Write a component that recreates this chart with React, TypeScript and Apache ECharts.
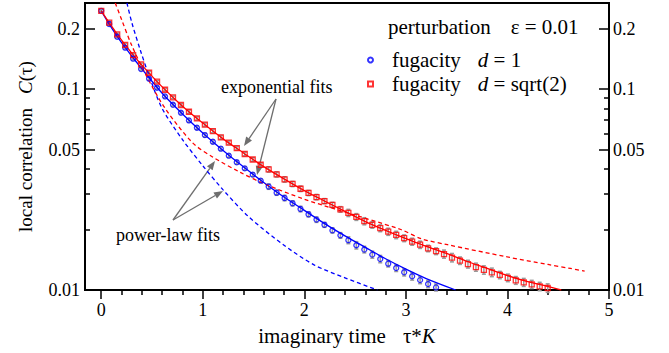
import React, { useEffect, useRef } from 'react';
import * as echarts from 'echarts';

// imaginary time grid (tau*K)
const tau = [0, 0.0785, 0.157, 0.2355, 0.314, 0.3925, 0.471, 0.5495, 0.628, 0.7065, 0.785, 0.8635, 0.942, 1.0205, 1.099, 1.1775, 1.256, 1.3345, 1.413, 1.4915, 1.57, 1.6485, 1.727, 1.8055, 1.884, 1.9625, 2.041, 2.1195, 2.198, 2.2765, 2.355, 2.4335, 2.512, 2.5905, 2.669, 2.7475, 2.826, 2.9045, 2.983, 3.0615, 3.14, 3.2185, 3.297, 3.3755, 3.454, 3.5325, 3.611, 3.6895, 3.768, 3.8465, 3.925, 4.0035, 4.082, 4.1605, 4.239, 4.3175, 4.396];

// fugacity d = 1 (blue circles)
const blueC = [0.245, 0.2106, 0.182, 0.1606, 0.1416, 0.1257, 0.1126, 0.1015, 0.0919, 0.0835, 0.0762, 0.0698, 0.0642, 0.059, 0.0547, 0.0505, 0.0466, 0.0432, 0.0403, 0.0375, 0.035, 0.0327, 0.0305, 0.0287, 0.027, 0.0253, 0.0238, 0.0224, 0.0211, 0.0198, 0.0187, 0.0177, 0.0167, 0.0159, 0.015, 0.01426, 0.01352, 0.01286, 0.01225, 0.0117, 0.0112, 0.0107, 0.0103];
const blueErr = [0.0037, 0.0032, 0.0027, 0.0024, 0.0021, 0.0019, 0.0017, 0.0015, 0.0014, 0.0013, 0.0011, 0.0014, 0.0013, 0.0012, 0.0011, 0.001, 0.0009, 0.0009, 0.0008, 0.0008, 0.0007, 0.001, 0.0009, 0.0009, 0.0008, 0.0008, 0.0007, 0.0007, 0.0006, 0.0006, 0.0006, 0.0007, 0.0007, 0.0006, 0.0006, 0.0006, 0.0005, 0.0005, 0.0005, 0.0005, 0.00045, 0.00043, 0.00041];

// fugacity d = sqrt(2) (red squares)
const redC = [0.245, 0.214, 0.187, 0.166, 0.1476, 0.1327, 0.1205, 0.1088, 0.0992, 0.0909, 0.0833, 0.0771, 0.0714, 0.0665, 0.0618, 0.0575, 0.0541, 0.0508, 0.0475, 0.0446, 0.042, 0.0398, 0.0376, 0.0355, 0.0337, 0.0319, 0.0304, 0.029, 0.0277, 0.0265, 0.0252, 0.0242, 0.0231, 0.022, 0.0211, 0.0203, 0.0195, 0.0188, 0.0181, 0.0174, 0.0168, 0.0161, 0.0156, 0.0151, 0.0145, 0.014, 0.01346, 0.013, 0.01259, 0.01225, 0.01188, 0.0115, 0.01117, 0.01092, 0.01067, 0.01042, 0.01023];
const redErr = [0.0037, 0.0032, 0.0028, 0.0025, 0.0022, 0.002, 0.0018, 0.0016, 0.0015, 0.0014, 0.0012, 0.0015, 0.0014, 0.0013, 0.0012, 0.0012, 0.0011, 0.001, 0.001, 0.0009, 0.0008, 0.0012, 0.0011, 0.0011, 0.001, 0.001, 0.0009, 0.0009, 0.0008, 0.0008, 0.0008, 0.001, 0.0009, 0.0009, 0.0008, 0.0008, 0.0008, 0.0008, 0.0007, 0.0007, 0.0007, 0.0006, 0.0006, 0.0007, 0.0007, 0.0006, 0.0006, 0.0006, 0.0006, 0.0006, 0.0005, 0.0005, 0.0005, 0.0005, 0.0005, 0.0005, 0.0005];

// exponential fits (solid)
const blueExpFit = [[0, 0.245], [0.1, 0.202], [0.2, 0.17], [0.3, 0.146], [0.4, 0.126], [0.6, 0.0953], [0.8, 0.0752], [1.0, 0.0605], [1.2, 0.0495], [1.4, 0.041], [1.6, 0.0343], [1.8, 0.029], [2.0, 0.0249], [2.2, 0.0214], [2.4, 0.0186], [2.6, 0.0163], [2.8, 0.0143], [3.0, 0.0127], [3.2, 0.0114], [3.49, 0.01]];
const redExpFit = [[0, 0.245], [0.1, 0.206], [0.2, 0.175], [0.3, 0.151], [0.4, 0.1315], [0.6, 0.1025], [0.8, 0.0822], [1.0, 0.0677], [1.2, 0.0565], [1.4, 0.0481], [1.6, 0.0411], [1.8, 0.0357], [2.0, 0.0312], [2.2, 0.0277], [2.4, 0.0246], [2.6, 0.0219], [2.8, 0.0198], [3.0, 0.018], [3.2, 0.0165], [3.4, 0.0152], [3.6, 0.0139], [3.8, 0.0128], [4.0, 0.0118], [4.2, 0.011], [4.4, 0.0104], [4.53, 0.01]];

// power-law fits (dashed)
const bluePowFit = [[0.253, 0.268], [0.3, 0.215], [0.385, 0.156], [0.483, 0.112], [0.6, 0.08], [0.8, 0.056], [1.0, 0.0415], [1.2, 0.0315], [1.45, 0.0232], [1.8, 0.0167], [2.1, 0.0133], [2.4, 0.0115], [2.72, 0.01]];
const redPowFit = [[0.138, 0.268], [0.2, 0.222], [0.3, 0.165], [0.45, 0.115], [0.63, 0.08], [0.9, 0.054], [1.1, 0.0458], [1.37, 0.0385], [1.62, 0.0335], [2.0, 0.0283], [2.3, 0.0253], [2.95, 0.02], [3.15, 0.018], [3.41, 0.0168], [4.0, 0.0146], [4.4, 0.0134], [4.62, 0.0128], [4.76, 0.0124]];

// axes
const xMajorTicks = [0, 1, 2, 3, 4, 5];
const xMinorTicks = [0.2, 0.4, 0.6, 0.8, 1.2, 1.4, 1.6, 1.8, 2.2, 2.4, 2.6, 2.8, 3.2, 3.4, 3.6, 3.8, 4.2, 4.4, 4.6, 4.8];
const yMajorTicks = [0.01, 0.05, 0.1, 0.2];
const yMajorLabels = ['0.01', '0.05', '0.1', '0.2'];
const yMinorTicks = [0.02, 0.03, 0.04, 0.06, 0.07, 0.08, 0.09];
const X_MIN = -0.16, X_MAX = 5;
const Y_MIN = 0.01, Y_MAX = 0.268;

const FONT = 'Liberation Serif';
const BLUE = '#0000ff';
const RED = '#ff0000';
const GREY = '#6e6e6e';

function yLabel(v: number) {
  let best = 0;
  for (let k = 1; k < yMajorTicks.length; k++) {
    if (Math.abs(Math.log10(yMajorTicks[k]) - v) < Math.abs(Math.log10(yMajorTicks[best]) - v)) best = k;
  }
  return yMajorLabels[best];
}

function arrow(x0: number, y0: number, x1: number, y1: number) {
  const dx = x1 - x0, dy = y1 - y0;
  const len = Math.sqrt(dx * dx + dy * dy);
  const ux = dx / len, uy = dy / len;
  const hl = 9, hw = 3.5;
  const bx = x1 - ux * hl, by = y1 - uy * hl;
  return [
    { type: 'line', shape: { x1: x0, y1: y0, x2: bx, y2: by }, style: { stroke: GREY, lineWidth: 1.3 } },
    { type: 'polygon', shape: { points: [[x1, y1], [bx - uy * hw, by + ux * hw], [bx + uy * hw, by - ux * hw]] }, style: { fill: GREY } },
  ];
}

function errData(c: number[], e: number[]) {
  return c.map((v, i) => [tau[i], v - e[i], v + e[i]]);
}

function errSeries(c: number[], e: number[]) {
  return {
    type: 'custom',
    xAxisIndex: 0,
    yAxisIndex: 0,
    z: 2,
    data: errData(c, e),
    encode: { x: 0, y: [1, 2] },
    renderItem: (params: any, api: any) => {
      const x = api.value(0);
      const lo = api.coord([x, api.value(1)]);
      const hi = api.coord([x, api.value(2)]);
      const w = 2;
      const st = { stroke: '#999999', lineWidth: 1.5 };
      return {
        type: 'group',
        children: [
          { type: 'line', shape: { x1: lo[0], y1: lo[1], x2: hi[0], y2: hi[1] }, style: st },
          { type: 'line', shape: { x1: lo[0] - w, y1: lo[1], x2: lo[0] + w, y2: lo[1] }, style: st },
          { type: 'line', shape: { x1: hi[0] - w, y1: hi[1], x2: hi[0] + w, y2: hi[1] }, style: st },
        ],
      };
    },
  };
}

function yValueAxis(position: 'left' | 'right', major: boolean, extra: any = {}) {
  const vals = (major ? yMajorTicks : yMinorTicks).map((v) => Math.log10(v));
  return {
    type: 'value',
    position,
    min: Math.log10(Y_MIN),
    max: Math.log10(Y_MAX),
    splitLine: { show: false },
    axisLine: { show: major, onZero: false, lineStyle: { color: '#000', width: 2 } },
    axisTick: { show: true, inside: true, length: major ? 10 : 5, customValues: vals, lineStyle: { color: '#000', width: 1.5 } },
    axisLabel: major
      ? { show: true, customValues: vals, formatter: yLabel, margin: position === 'left' ? 5 : 4, fontFamily: FONT, fontSize: 18, color: '#000' }
      : { show: false },
    ...extra,
  };
}

export default function App() {
  const ref = useRef<HTMLDivElement>(null);
  useEffect(() => {
    const chart = echarts.init(ref.current!, null, { renderer: 'svg' });
    const option: any = {
      animation: false,
      backgroundColor: '#fff',
      grid: { left: 85, right: 60, top: 3, bottom: 63, show: true, borderColor: '#000', borderWidth: 2, backgroundColor: 'transparent' },
      xAxis: [
        {
          type: 'value',
          min: X_MIN,
          max: X_MAX,
          position: 'bottom',
          splitLine: { show: false },
          axisLine: { show: true, onZero: false, lineStyle: { color: '#000', width: 2 } },
          axisTick: { show: true, inside: false, length: 9, customValues: xMajorTicks, lineStyle: { color: '#000', width: 1.5 } },
          axisLabel: { show: true, customValues: xMajorTicks, formatter: (v: number) => String(Math.round(v)), margin: 11, fontFamily: FONT, fontSize: 18, color: '#000' },
          name: '{a|imaginary time}τ*{i|K}',
          nameLocation: 'middle',
          nameGap: 35,
          nameTextStyle: {
            fontFamily: FONT, fontSize: 21, color: '#000',
            rich: {
              a: { fontFamily: FONT, fontSize: 21, color: '#000', padding: [0, 17, 0, 0] },
              i: { fontFamily: FONT, fontSize: 21, color: '#000', fontStyle: 'italic' },
            },
          },
        },
        {
          type: 'value',
          min: X_MIN,
          max: X_MAX,
          position: 'bottom',
          splitLine: { show: false },
          axisLine: { show: false, onZero: false },
          axisTick: { show: true, inside: false, length: 5, customValues: xMinorTicks, lineStyle: { color: '#000', width: 1.5 } },
          axisLabel: { show: false },
        },
      ],
      yAxis: [
        { type: 'log', min: Y_MIN, max: Y_MAX, logBase: 10, show: false, splitLine: { show: false } },
        yValueAxis('left', true, {
          name: '{a|local correlation}{i|C}(τ)',
          nameLocation: 'middle',
          nameRotate: 90,
          nameGap: 50,
          nameTextStyle: {
            fontFamily: FONT, fontSize: 19, color: '#000',
            rich: {
              a: { fontFamily: FONT, fontSize: 19, color: '#000', padding: [0, 14, 0, 0] },
              i: { fontFamily: FONT, fontSize: 19, color: '#000', fontStyle: 'italic' },
            },
          },
        }),
        yValueAxis('left', false),
        yValueAxis('right', true),
        yValueAxis('right', false),
      ],
      legend: {
        orient: 'vertical',
        left: 362,
        top: 44,
        itemWidth: 5,
        itemHeight: 5,
        itemGap: 2,
        selectedMode: false,
        data: [
          { name: 'fugacity d = 1', icon: 'circle' },
          { name: 'fugacity d = sqrt(2)', icon: 'rect' },
        ],
        formatter: (name: string) => (name === 'fugacity d = 1' ? '{a|fugacity}{i|d} = 1' : '{a|fugacity}{i|d} = sqrt(2)'),
        textStyle: {
          fontFamily: FONT, fontSize: 21, color: '#000', lineHeight: 22,
          rich: {
            a: { fontFamily: FONT, fontSize: 21, color: '#000', padding: [0, 17, 0, 14] },
            i: { fontFamily: FONT, fontSize: 21, color: '#000', fontStyle: 'italic' },
          },
        },
      },
      graphic: [
        {
          type: 'text',
          x: 388,
          y: 27,
          style: {
            text: '{a|perturbation}ε = 0.01',
            fontFamily: FONT, fontSize: 21, fill: '#000',
            verticalAlign: 'middle', align: 'left',
            rich: { a: { fontFamily: FONT, fontSize: 21, fill: '#000', padding: [0, 20, 0, 0] } },
          },
        },
        { type: 'text', x: 221, y: 87, style: { text: 'exponential fits', fontFamily: FONT, fontSize: 18, fill: '#000', verticalAlign: 'middle', align: 'left' } },
        { type: 'text', x: 116, y: 235, style: { text: 'power-law fits', fontFamily: FONT, fontSize: 18, fill: '#000', verticalAlign: 'middle', align: 'left' } },
        ...arrow(276, 99, 244, 146),
        ...arrow(276, 99, 257, 175),
        ...arrow(173, 220, 215, 161),
        ...arrow(173, 220, 223, 191),
      ],
      series: [
        errSeries(blueC, blueErr),
        errSeries(redC, redErr),
        {
          type: 'line', name: 'blue exponential fit', data: blueExpFit, xAxisIndex: 0, yAxisIndex: 0,
          smooth: 0.3, showSymbol: false, symbol: 'none', z: 3, lineStyle: { color: BLUE, width: 1.3 },
        },
        {
          type: 'line', name: 'red exponential fit', data: redExpFit, xAxisIndex: 0, yAxisIndex: 0,
          smooth: 0.3, showSymbol: false, symbol: 'none', z: 3, lineStyle: { color: RED, width: 1.3 },
        },
        {
          type: 'line', name: 'blue power-law fit', data: bluePowFit, xAxisIndex: 0, yAxisIndex: 0,
          smooth: 0.3, showSymbol: false, symbol: 'none', z: 3, lineStyle: { color: BLUE, width: 1.3, type: [4, 3] },
        },
        {
          type: 'line', name: 'red power-law fit', data: redPowFit, xAxisIndex: 0, yAxisIndex: 0,
          smooth: 0.3, showSymbol: false, symbol: 'none', z: 3, lineStyle: { color: RED, width: 1.3, type: [4, 3] },
        },
        {
          type: 'scatter', name: 'fugacity d = 1', xAxisIndex: 0, yAxisIndex: 0, z: 4,
          data: blueC.map((v, i) => [tau[i], v]),
          symbol: 'circle', symbolSize: 5,
          itemStyle: { color: 'rgba(255,255,255,0)', borderColor: BLUE, borderWidth: 1.3 },
        },
        {
          type: 'scatter', name: 'fugacity d = sqrt(2)', xAxisIndex: 0, yAxisIndex: 0, z: 4,
          data: redC.map((v, i) => [tau[i], v]),
          symbol: 'rect', symbolSize: 5,
          itemStyle: { color: 'rgba(255,255,255,0)', borderColor: RED, borderWidth: 1.3 },
        },
      ],
    };
    chart.setOption(option);
    return () => chart.dispose();
  }, []);
  return <div ref={ref} style={{ position: 'fixed', left: 0, top: 0, width: 669, height: 353 }} />;
}
